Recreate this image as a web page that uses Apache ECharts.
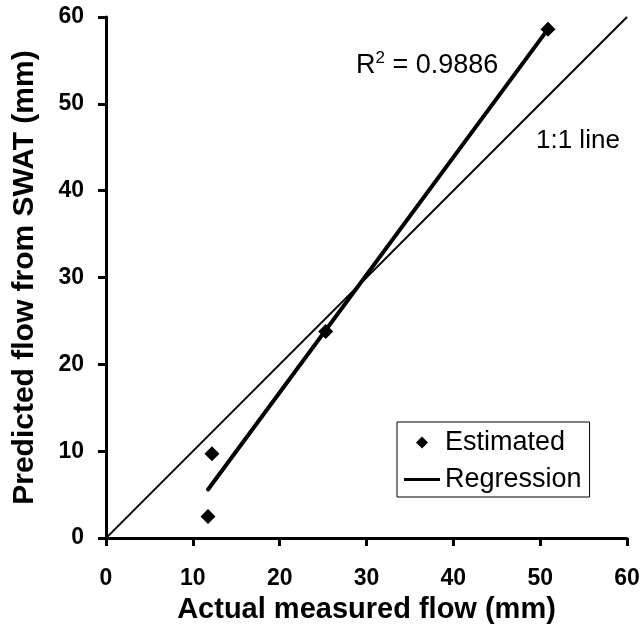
<!DOCTYPE html>
<html>
<head>
<meta charset="utf-8">
<script src="https://cdn.jsdelivr.net/npm/echarts@6/dist/echarts.min.js"></script>
<style>
  html, body { margin: 0; padding: 0; background: #fff; }
  #chart { width: 643px; height: 629px; }
</style>
</head>
<body>
<div id="chart"></div>
<script>
// values
const measuredFlow = [11.75, 12.2, 25.3, 50.9]
const predictedFlow = [2.5, 9.7, 23.8, 58.6]
const regressionX = [11.75, 50.9]
const regressionY = [5.6, 58.6]
const oneToOneX = [0, 60]
const oneToOneY = [0, 60]
const axisMin = 0
const axisMax = 60
const tickStep = 10
const r2Text = '0.9886'

const font = "'Liberation Sans', Arial, sans-serif"
const zip = (a, b) => a.map((v, i) => [v, b[i]])

const chart = echarts.init(document.getElementById('chart'))

const axisCommon = {
  type: 'value',
  min: axisMin,
  max: axisMax,
  interval: tickStep,
  nameLocation: 'middle',
  nameTextStyle: { fontFamily: font, fontWeight: 'bold', fontSize: 29, color: '#000' },
  axisLine: { show: true, lineStyle: { color: '#000', width: 3 } },
  axisTick: { show: true, inside: false, length: 8, lineStyle: { color: '#000', width: 3 } },
  splitLine: { show: false },
  axisLabel: { fontFamily: font, fontWeight: 'bold', fontSize: 23, color: '#000' }
}

chart.setOption({
  animation: false,
  backgroundColor: '#fff',
  grid: { left: 106, right: 16, top: 17, bottom: 89, containLabel: false },
  xAxis: Object.assign({}, axisCommon, {
    name: 'Actual measured flow (mm)',
    nameGap: 54,
    axisLabel: Object.assign({}, axisCommon.axisLabel, { margin: 29 })
  }),
  yAxis: Object.assign({}, axisCommon, {
    name: 'Predicted flow from SWAT (mm)',
    nameGap: 66,
    nameTextStyle: Object.assign({}, axisCommon.nameTextStyle, { fontSize: 30 }),
    axisLabel: Object.assign({}, axisCommon.axisLabel, { margin: 22 })
  }),
  legend: {
    data: [
      { name: 'Estimated', icon: 'path://M7,0 L14,7 L7,14 L0,7 Z' },
      { name: 'Regression', icon: 'path://M0,0 L36,0 L36,3 L0,3 Z' }
    ],
    orient: 'vertical',
    left: 397,
    top: 422,
    padding: [7, 8, 4, 7],
    itemGap: 10,
    itemWidth: 36,
    itemHeight: 12,
    symbolKeepAspect: true,
    borderColor: '#000',
    borderWidth: 1,
    textStyle: { fontFamily: font, fontSize: 27, color: '#000' }
  },
  graphic: [
    {
      type: 'text',
      left: 356,
      top: 50,
      style: {
        text: '{a|R}{b|2}{a| = ' + r2Text + '}',
        rich: {
          a: { fontFamily: font, fontSize: 27, color: '#000' },
          b: { fontFamily: font, fontSize: 17, color: '#000', padding: [0, 0, 14, 0] }
        }
      }
    },
    {
      type: 'text',
      left: 536,
      top: 128,
      style: { text: '1:1 line', fontFamily: font, fontSize: 26, fill: '#000' }
    }
  ],
  series: [
    {
      name: '1:1',
      type: 'line',
      data: zip(oneToOneX, oneToOneY),
      symbol: 'none',
      lineStyle: { color: '#000', width: 2 },
      silent: true
    },
    {
      name: 'Regression',
      type: 'line',
      data: zip(regressionX, regressionY),
      symbol: 'none',
      lineStyle: { color: '#000', width: 4, cap: 'round' },
      itemStyle: { color: '#000' }
    },
    {
      name: 'Estimated',
      type: 'scatter',
      data: zip(measuredFlow, predictedFlow),
      symbol: 'diamond',
      symbolSize: [15, 15],
      itemStyle: { color: '#000', opacity: 1 }
    }
  ]
})
</script>
</body>
</html>
